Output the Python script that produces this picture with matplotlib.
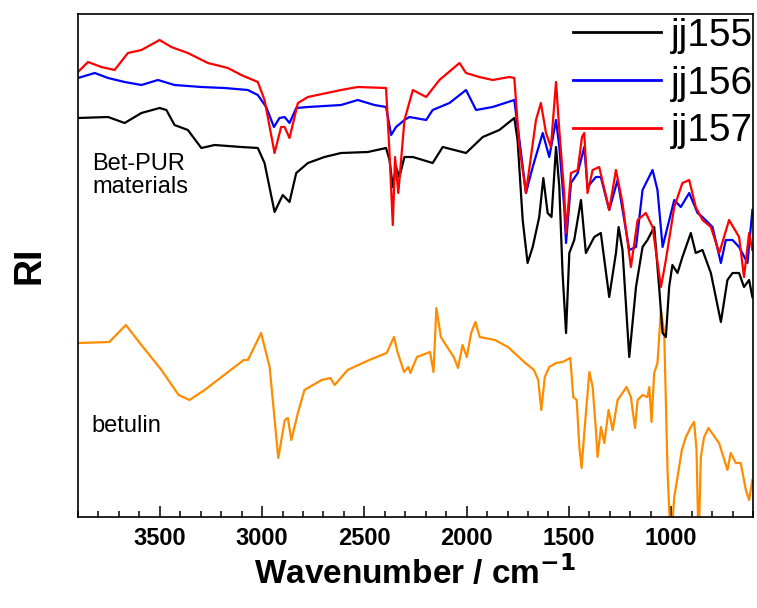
import matplotlib
matplotlib.use("Agg")
import matplotlib.pyplot as plt
from matplotlib.ticker import MultipleLocator

plt.rcParams['font.family'] = ['Liberation Sans', 'DejaVu Sans']

# ---- data (wavenumber / cm-1, relative intensity in arbitrary units) ----
jj155_wn = [3900, 3753, 3672, 3590, 3501, 3468, 3428, 3363, 3297, 3232, 3102, 3021, 2988, 2939,
            2899, 2866, 2833, 2776, 2695, 2614, 2483, 2394, 2377, 2361, 2345, 2329, 2304, 2263,
            2166, 2117, 2003, 1921, 1840, 1767, 1751, 1726, 1702, 1677, 1645, 1625, 1604, 1585,
            1563, 1547, 1531, 1514, 1498, 1474, 1441, 1417, 1376, 1344, 1303, 1270, 1257, 1238,
            1205, 1172, 1140, 1116, 1083, 1059, 1042, 1026, 1010, 994, 969, 945, 904, 880, 847,
            806, 757, 725, 700, 668, 644, 619, 603]
jj155_ri = [399, 400, 394, 404, 409, 407, 392, 387, 369, 372, 370, 369, 354, 305,
            322, 315, 344, 354, 360, 364, 365, 369, 357, 330, 350, 340, 360, 360,
            354, 370, 364, 380, 387, 399, 377, 297, 254, 270, 300, 339, 304, 300,
            370, 330, 244, 184, 264, 277, 317, 264, 280, 284, 220, 264, 290, 267,
            160, 230, 270, 277, 290, 230, 184, 180, 230, 252, 244, 260, 284, 264, 267,
            244, 195, 237, 244, 244, 230, 237, 220]

jj156_wn = [3900, 3818, 3753, 3672, 3590, 3509, 3428, 3297, 3183, 3070, 3021, 2980, 2942, 2915,
            2890, 2866, 2833, 2776, 2614, 2532, 2451, 2394, 2369, 2345, 2304, 2280, 2198, 2166,
            2084, 2003, 1954, 1873, 1767, 1742, 1710, 1677, 1628, 1596, 1563, 1547, 1523, 1514,
            1490, 1457, 1425, 1409, 1368, 1344, 1303, 1262, 1205, 1172, 1140, 1091, 1067, 1042,
            1018, 985, 953, 912, 871, 847, 798, 757, 733, 700, 668, 627, 603]
jj156_ri = [439, 444, 439, 435, 432, 437, 432, 430, 429, 427, 422, 410, 390, 399,
            400, 394, 409, 410, 412, 417, 412, 410, 382, 390, 397, 400, 397, 407,
            414, 427, 407, 410, 417, 377, 324, 350, 384, 360, 397, 370, 310, 274,
            334, 344, 370, 330, 340, 340, 307, 337, 267, 270, 327, 347, 327, 270,
            290, 317, 310, 324, 304, 300, 290, 254, 277, 277, 270, 254, 307]

jj157_wn = [3900, 3851, 3786, 3721, 3656, 3590, 3501, 3444, 3363, 3265, 3167, 3102, 3021, 2988,
            2939, 2907, 2890, 2866, 2825, 2776, 2614, 2532, 2394, 2377, 2361, 2350, 2334, 2304,
            2263, 2198, 2133, 2035, 2003, 1938, 1873, 1791, 1767, 1742, 1710, 1661, 1637, 1612,
            1588, 1563, 1547, 1523, 1514, 1490, 1457, 1436, 1425, 1409, 1384, 1352, 1303, 1270,
            1238, 1197, 1164, 1124, 1091, 1050, 1026, 985, 945, 912, 880, 847, 806, 765, 717,
            668, 644, 619, 603]
jj157_ri = [445, 455, 450, 447, 464, 467, 477, 470, 464, 454, 449, 442, 435, 417,
            364, 390, 390, 379, 414, 420, 427, 430, 429, 364, 292, 360, 324, 397,
            427, 420, 437, 454, 444, 440, 437, 440, 439, 370, 324, 397, 414, 384,
            370, 435, 387, 324, 284, 344, 347, 380, 384, 324, 347, 350, 307, 347,
            314, 250, 297, 304, 290, 230, 257, 310, 334, 337, 310, 297, 290, 264, 297,
            280, 240, 284, 267]

betulin_wn = [3895, 3747, 3666, 3598, 3492, 3408, 3355, 3281, 3090, 3069, 3005, 2963, 2921, 2889,
              2874, 2857, 2825, 2793, 2709, 2666, 2645, 2582, 2476, 2391, 2355, 2338, 2306, 2285,
              2275, 2243, 2179, 2162, 2148, 2126, 2095, 2063, 2042, 2020, 1999, 1978, 1957, 1936,
              1862, 1798, 1713, 1671, 1650, 1635, 1618, 1596, 1563, 1531, 1493, 1479, 1462, 1449,
              1438, 1425, 1400, 1384, 1368, 1360, 1343, 1327, 1306, 1286, 1262, 1238, 1218, 1197,
              1177, 1164, 1140, 1116, 1107, 1096, 1083, 1067, 1050, 1034, 1018, 1002, 985, 969,
              948, 928, 904, 888, 876, 866, 855, 839, 818, 766, 725, 709, 684, 660, 635, 619, 603]
betulin_ri = [174, 175, 192, 174, 147, 122, 117, 127, 157, 157, 184, 150, 59, 97,
              99, 77, 104, 127, 137, 139, 132, 147, 157, 164, 180, 165, 145, 150,
              144, 160, 165, 145, 209, 180, 170, 160, 149, 172, 160, 184, 195, 180,
              177, 170, 154, 147, 137, 107, 140, 150, 154, 155, 159, 120, 117, 70,
              49, 84, 145, 130, 87, 60, 90, 74, 107, 87, 117, 124, 130, 120,
              89, 117, 122, 120, 130, 95, 144, 154, 207, 184, 47, -30, 20, 40,
              67, 80, 90, 95, 67, -30, 60, 80, 89, 74, 47, 64, 54, 54, 27, 17, 37]

series_labels = ['jj155', 'jj156', 'jj157']
xtick_values = [3500, 3000, 2500, 2000, 1500, 1000]

# ---- figure ----
fig = plt.figure(figsize=(7.57, 6.08), dpi=100)
ax = fig.add_axes([78 / 757, 1 - 517 / 608, 675 / 757, 503 / 608])

lw = 1.6
ax.plot(betulin_wn, betulin_ri, color='#ff8c00', lw=lw)
ax.plot(jj155_wn, jj155_ri, color='black', lw=lw, label=series_labels[0])
ax.plot(jj156_wn, jj156_ri, color='#0000ff', lw=lw, label=series_labels[1])
ax.plot(jj157_wn, jj157_ri, color='#ff0000', lw=lw, label=series_labels[2])

ax.set_xlim(3900, 600)
ax.set_ylim(0, 503)

ax.set_xticks(xtick_values)
ax.xaxis.set_minor_locator(MultipleLocator(100))
ax.tick_params(axis='x', which='major', direction='in', length=8, width=1.1,
               labelsize=17, pad=7, top=False)
ax.tick_params(axis='x', which='minor', direction='in', length=4, width=1.1, top=False)
for lab in ax.get_xticklabels():
    lab.set_fontweight('bold')
ax.set_yticks([])
for sp in ax.spines.values():
    sp.set_linewidth(1.2)

ax.set_xlabel('Wavenumber / cm$^{\\mathbf{-1}}$', fontsize=24, fontweight='bold', labelpad=4)
ax.set_ylabel('RI', fontsize=27, fontweight='bold', labelpad=22)

ax.text(3830, 324, 'Bet-PUR\nmaterials', fontsize=17, ha='left', va='baseline',
        linespacing=1.05)
ax.text(3836, 85, 'betulin', fontsize=17, ha='left', va='baseline')

leg = ax.legend(loc='upper right', frameon=False, fontsize=28, handlelength=2.26,
                handletextpad=0.26, labelspacing=0.30, borderaxespad=0.0,
                borderpad=0.0, bbox_to_anchor=(1.001, 0.992))
for line in leg.get_lines():
    line.set_linewidth(2.0)

fig.savefig('out.png', dpi=100)
